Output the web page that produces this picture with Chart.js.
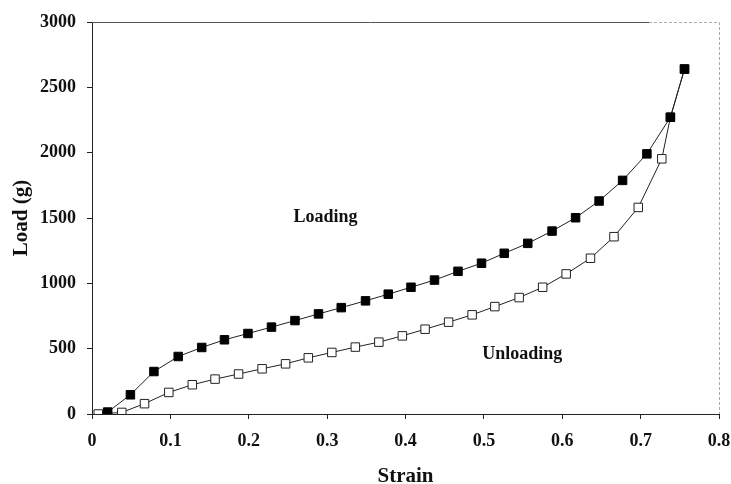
<!DOCTYPE html>
<html>
<head>
<meta charset="utf-8">
<script src="https://cdn.jsdelivr.net/npm/chart.js@4"></script>
<style>
  html, body { margin: 0; padding: 0; background: #fff; }
  #wrap { width: 731px; height: 484px; }
</style>
</head>
<body>
<div id="wrap"><canvas id="chart"></canvas></div>
<script>
// values
var loadStrain = [0.02, 0.049, 0.079, 0.11, 0.14, 0.169, 0.199, 0.229, 0.259, 0.289, 0.318, 0.349, 0.378,
                  0.407, 0.437, 0.467, 0.497, 0.526, 0.556, 0.587, 0.617, 0.647, 0.677, 0.708, 0.738, 0.756];
var loadValues = [15, 147, 325, 440, 509, 568, 616, 665, 715, 766, 814, 866, 917,
                  970, 1025, 1092, 1154, 1230, 1306, 1400, 1502, 1630, 1788, 1991, 2271, 2640];
var unloadStrain = [0.008, 0.038, 0.067, 0.098, 0.128, 0.157, 0.187, 0.217, 0.247, 0.276, 0.306, 0.336, 0.366, 0.396,
                    0.425, 0.455, 0.485, 0.514, 0.545, 0.575, 0.605, 0.636, 0.666, 0.697, 0.727, 0.738, 0.756];
var unloadValues = [0, 12, 79, 165, 224, 267, 306, 346, 384, 430, 471, 512, 550, 598,
                    649, 703, 759, 822, 891, 970, 1072, 1192, 1357, 1581, 1953, 2271, 2640];
var xTicks = [0, 0.1, 0.2, 0.3, 0.4, 0.5, 0.6, 0.7, 0.8];
var yTicks = [0, 500, 1000, 1500, 2000, 2500, 3000];
var curveNames = ['Loading', 'Unloading'];
var namePos = [[0.298, 1507], [0.549, 460]];

var serif = '"Liberation Serif", "Times New Roman", serif';

function pairs(xs, ys){
      var out = [];
      for(var i = 0; i < xs.length; i++){
            out.push({x: xs[i], y: ys[i]});
      }
      return out;
}

// frame on top / right plus the curve names
var extras = {
      id: 'extras',
      beforeDatasetsDraw: function(chart){
            var a = chart.chartArea, c = chart.ctx;
            c.save();
            c.lineWidth = 1;
            c.strokeStyle = '#555';
            c.beginPath();
            c.moveTo(a.left, a.top + 0.5);
            c.lineTo(a.right - 70, a.top + 0.5);
            c.stroke();
            c.strokeStyle = '#aaa';
            c.setLineDash([3, 2]);
            c.beginPath();
            c.moveTo(a.right - 70, a.top + 0.5);
            c.lineTo(a.right + 0.5, a.top + 0.5);
            c.lineTo(a.right + 0.5, a.bottom);
            c.stroke();
            c.restore();
      },
      afterDatasetsDraw: function(chart){
            var c = chart.ctx, sx = chart.scales.x, sy = chart.scales.y;
            c.save();
            c.fillStyle = '#111';
            c.font = 'bold 18px ' + serif;
            c.textAlign = 'center';
            c.textBaseline = 'middle';
            for(var i = 0; i < curveNames.length; i++){
                  c.fillText(curveNames[i], sx.getPixelForValue(namePos[i][0]), sy.getPixelForValue(namePos[i][1]));
            }
            c.restore();
      }
};

var ctx = document.getElementById('chart').getContext('2d');
var chart = new Chart(ctx, {
      type: 'scatter',
      data: {
            datasets: [{
                  label: 'Loading',
                  data: pairs(loadStrain, loadValues),
                  showLine: true,
                  borderColor: '#222',
                  borderWidth: 1,
                  pointStyle: 'rect',
                  pointRadius: 6,
                  pointBackgroundColor: '#000',
                  pointBorderColor: '#000',
                  pointBorderWidth: 1,
                  order: 0
            }, {
                  label: 'Unloading',
                  data: pairs(unloadStrain, unloadValues),
                  showLine: true,
                  borderColor: '#222',
                  borderWidth: 1,
                  pointStyle: 'rect',
                  pointRadius: 6,
                  pointBackgroundColor: '#fff',
                  pointBorderColor: '#222',
                  pointBorderWidth: 1,
                  order: 1
            }]
      },
      options: {
            responsive: true,
            maintainAspectRatio: false,
            animation: false,
            layout: { padding: { left: 0, right: 0, top: 22, bottom: 0 } },
            plugins: {
                  legend: { display: false },
                  tooltip: { enabled: false }
            },
            scales: {
                  x: {
                        type: 'linear',
                        min: 0,
                        max: 0.8,
                        afterBuildTicks: function(s){ s.ticks = xTicks.map(function(v){ return {value: v}; }); },
                        afterFit: function(s){ s.height = 70; s.paddingRight = 12; s.paddingLeft = 0; },
                        border: { display: true, color: '#222', width: 1 },
                        grid: { drawOnChartArea: false, color: '#222', tickLength: 5 },
                        ticks: {
                              color: '#111',
                              padding: 12,
                              font: { family: serif, size: 18, weight: 'bold' },
                              callback: function(v){ return String(v); }
                        },
                        title: {
                              display: true,
                              text: 'Strain',
                              color: '#111',
                              padding: { top: 0, bottom: -5 },
                              font: { family: serif, size: 21, weight: 'bold' }
                        }
                  },
                  y: {
                        min: 0,
                        max: 3000,
                        afterBuildTicks: function(s){ s.ticks = yTicks.map(function(v){ return {value: v}; }); },
                        afterFit: function(s){ s.width = 92; },
                        border: { display: true, color: '#222', width: 1 },
                        grid: { drawOnChartArea: false, color: '#222', tickLength: 5 },
                        ticks: {
                              color: '#111',
                              padding: 11,
                              font: { family: serif, size: 18, weight: 'bold' },
                              callback: function(v){ return String(v); }
                        },
                        title: {
                              display: true,
                              text: 'Load (g)',
                              color: '#111',
                              padding: { top: 9, bottom: 0 },
                              font: { family: serif, size: 21, weight: 'bold' }
                        }
                  }
            }
      },
      plugins: [extras]
});
</script>
</body>
</html>
